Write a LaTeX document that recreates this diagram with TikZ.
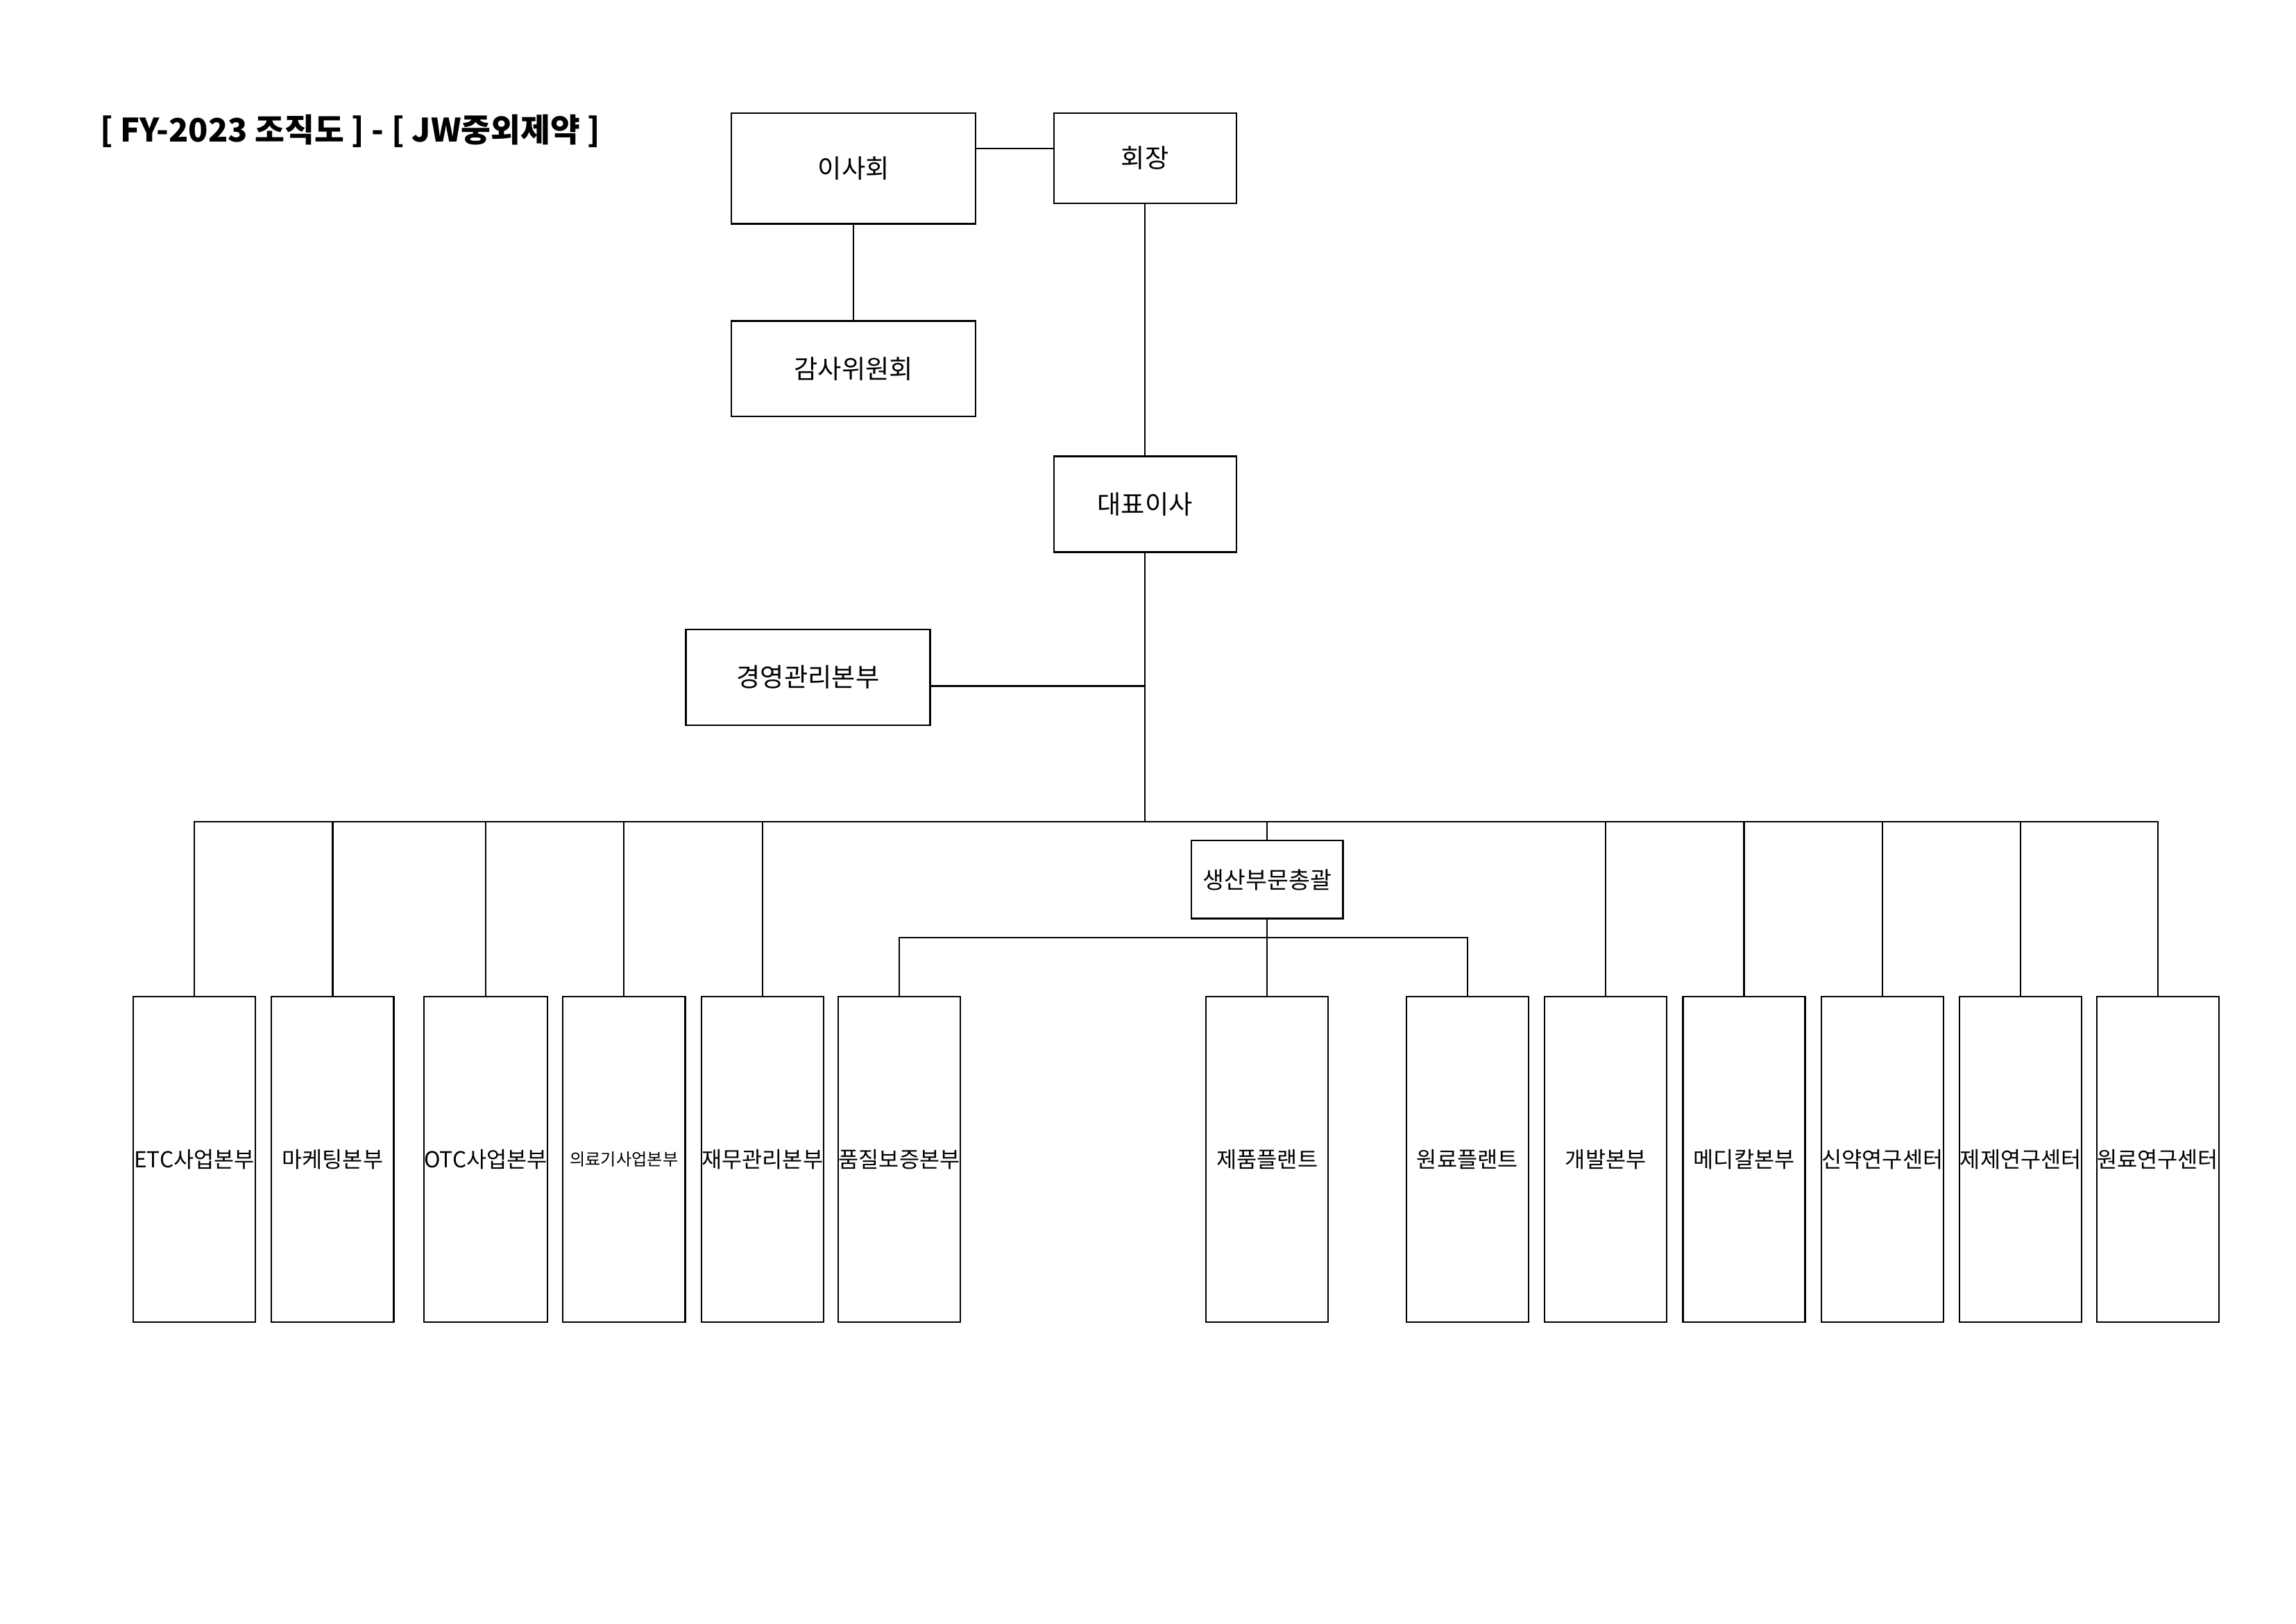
\documentclass[tikz,border=0pt]{standalone}
\usepackage{fontspec}
\setmainfont{Noto Sans CJK KR}
\begin{document}
\begin{tikzpicture}[x=0.02cm,y=-0.02cm,
  box/.style={draw,line width=0.6pt,minimum width=3.32cm,minimum height=1.5cm,font=\fontsize{10}{12}\selectfont},
  unit/.style={draw,line width=0.6pt,minimum width=1.66cm,minimum height=4.42cm,inner sep=0pt,font=\fontsize{8.5}{10}\selectfont},
  link/.style={line width=0.6pt}]
  \useasboundingbox (0,0) rectangle (1560,1103);
  \node[anchor=west,font=\fontsize{12.5}{14}\selectfont\bfseries] (title) at (62,89) {[ FY-2023 조직도 ] - [ JW중외제약 ]};
  \node[box] (board) at (580,114.5) {이사회};
  \node[box,minimum width=2.48cm,minimum height=1.22cm] (chair) at (778,107.5) {회장};
  \node[box,minimum height=1.3cm] (audit) at (580,250.5) {감사위원회};
  \node[box,minimum width=2.48cm,minimum height=1.3cm] (ceo) at (778,342.5) {대표이사};
  \node[box,minimum height=1.3cm] (mgmt) at (549,460) {경영관리본부};
  \node[box,minimum width=2.06cm,minimum height=1.06cm,font=\fontsize{9}{11}\selectfont] (prod) at (861,597.5) {생산부문총괄};
  \coordinate (bus) at (778,558);
  \coordinate (sub) at (861,637);
  \draw[link] (board.east |- 0,101) -- (chair.west |- 0,101);
  \draw[link] (board) -- (audit);
  \draw[link] (chair) -- (ceo);
  \draw[link] (ceo) -- (bus);
  \draw[link] (mgmt.east |- 0,466) -- (778,466);
  % bottom row
  \foreach \name/\x/\txt in {etc/132/ETC사업본부, mkt/226/마케팅본부, otc/330/OTC사업본부, med/424/{\fontsize{6.5}{8}\selectfont 의료기사업본부}, fin/518/재무관리본부, qa/611/품질보증본부, plant/861/제품플랜트, raw/997/원료플랜트, dev/1091/개발본부, mdc/1185/메디칼본부, drug/1279/신약연구센터, form/1373/제제연구센터, rawr/1466/원료연구센터}
    \node[unit] (\name) at (\x,787.5) {\txt};
  \draw[link] (etc.north) |- (rawr.north |- bus) -- (rawr.north);
  \foreach \name in {mkt,otc,med,fin,dev,mdc,drug,form}
    \draw[link] (\name.north) -- (\name.north |- bus);
  \draw[link] (prod.north) -- (prod.north |- bus);
  \draw[link] (prod) -- (plant);
  \draw[link] (qa.north) |- (raw.north |- sub) -- (raw.north);
\end{tikzpicture}
\end{document}
